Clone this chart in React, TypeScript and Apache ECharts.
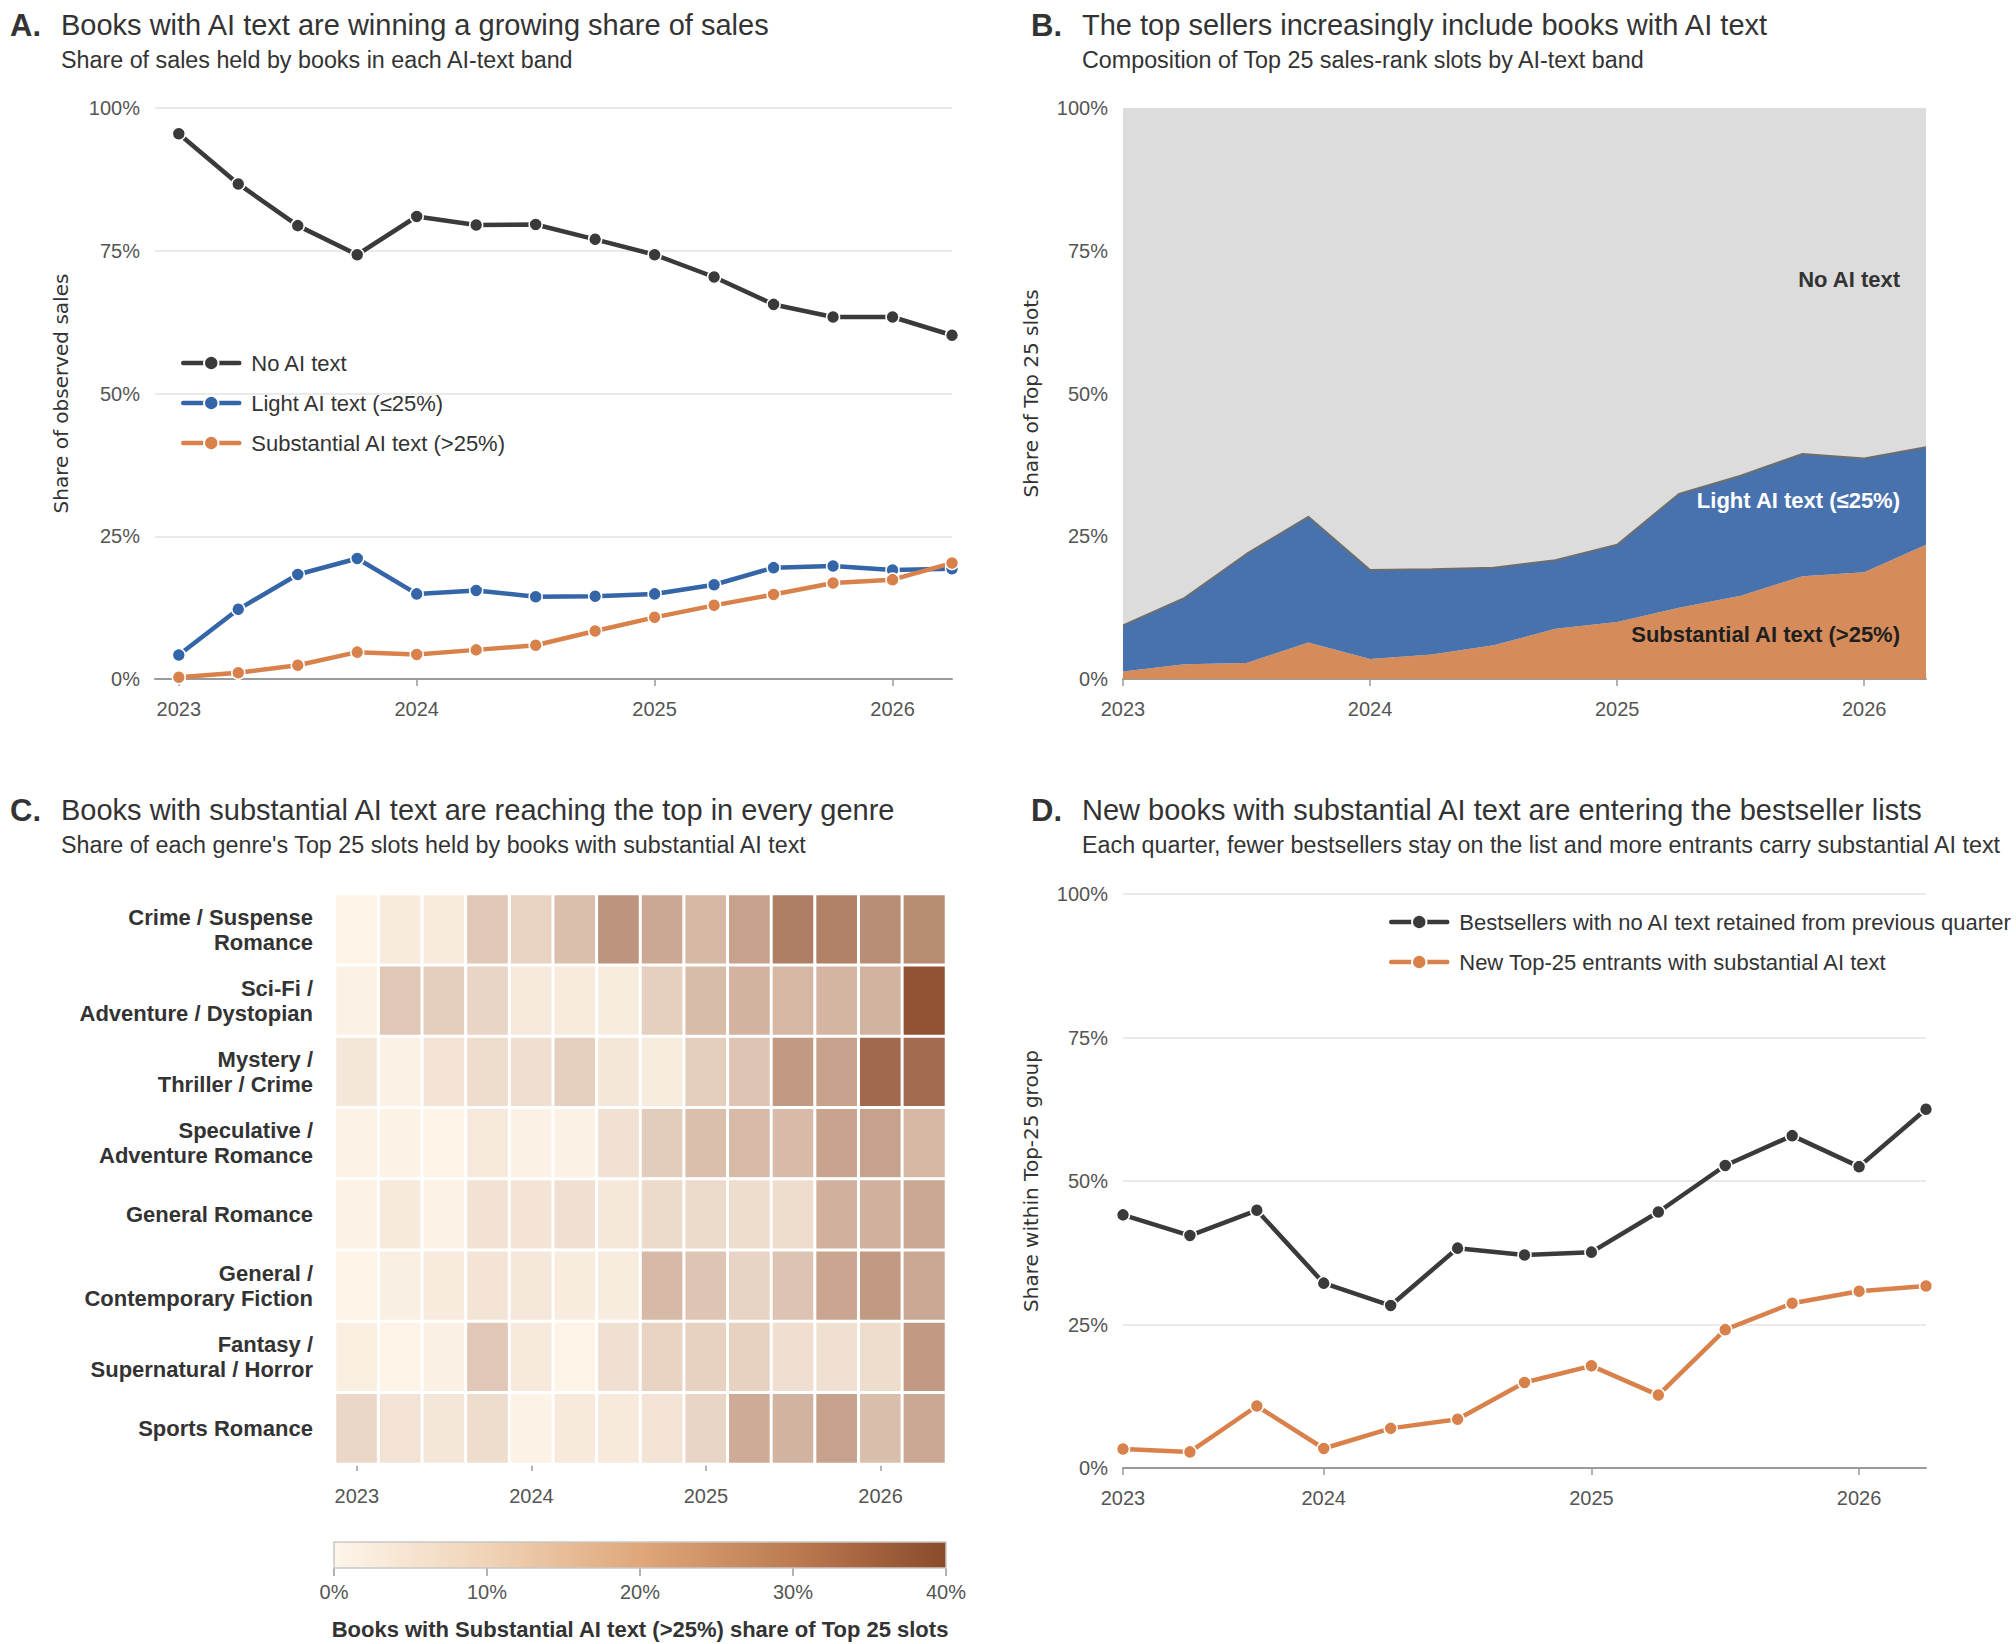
import React, { useEffect, useRef } from "react";
import * as echarts from "echarts";

// ---------- data ----------
const QUARTER_X = [2023, 2023.25, 2023.5, 2023.75, 2024, 2024.25, 2024.5, 2024.75, 2025, 2025.25, 2025.5, 2025.75, 2026, 2026.25];
const YEAR_TICKS = [2023, 2024, 2025, 2026];

const A_NAMES = ["No AI text", "Light AI text (≤25%)", "Substantial AI text (>25%)"];
const A_NO_AI = [95.5, 86.7, 79.4, 74.3, 81.0, 79.5, 79.6, 77.0, 74.3, 70.4, 65.6, 63.4, 63.4, 60.2];
const A_LIGHT = [4.2, 12.2, 18.3, 21.1, 14.9, 15.5, 14.4, 14.5, 14.9, 16.5, 19.5, 19.8, 19.1, 19.3];
const A_SUBST = [0.3, 1.1, 2.4, 4.7, 4.3, 5.1, 5.9, 8.4, 10.8, 12.9, 14.8, 16.8, 17.4, 20.3];

const B_QUARTERS = ["2023 Q1", "2023 Q2", "2023 Q3", "2023 Q4", "2024 Q1", "2024 Q2", "2024 Q3", "2024 Q4", "2025 Q1", "2025 Q2", "2025 Q3", "2025 Q4", "2026 Q1", "2026 Q2"];
const B_SUBST = [1.3, 2.6, 2.8, 6.4, 3.5, 4.3, 5.9, 8.8, 10.0, 12.5, 14.6, 18.0, 18.7, 23.5];
const B_LIGHT = [8.1, 11.6, 19.1, 22.0, 15.6, 14.9, 13.6, 12.0, 13.5, 19.9, 21.0, 21.4, 19.9, 17.1];
const B_NO_AI = [90.6, 85.8, 78.1, 71.6, 80.9, 80.8, 80.5, 79.2, 76.5, 67.6, 64.4, 60.6, 61.4, 59.4];

const C_QUARTERS = ["2023 Q1", "2023 Q2", "2023 Q3", "2023 Q4", "2024 Q1", "2024 Q2", "2024 Q3", "2024 Q4", "2025 Q1", "2025 Q2", "2025 Q3", "2025 Q4", "2026 Q1", "2026 Q2"];
const C_GENRES = [
  "Crime / Suspense\nRomance",
  "Sci-Fi /\nAdventure / Dystopian",
  "Mystery /\nThriller / Crime",
  "Speculative /\nAdventure Romance",
  "General Romance",
  "General /\nContemporary Fiction",
  "Fantasy /\nSupernatural / Horror",
  "Sports Romance",
];
const C_CRIME = [0, 1.9, 1.9, 10.4, 7.6, 12.3, 22.5, 17.8, 14.2, 19.4, 27.5, 27.0, 23.9, 24.6];
const C_SCIFI = [0.5, 10.4, 9.0, 7.1, 2.6, 1.9, 1.7, 8.5, 13.0, 15.1, 14.2, 14.7, 15.1, 38.0];
const C_MYSTERY = [3.1, 0.5, 3.6, 5.4, 4.7, 8.5, 3.1, 1.7, 8.8, 11.1, 21.0, 19.4, 32.4, 32.0];
const C_SPECULATIVE = [0.2, 0.2, 0, 2.4, 0.5, 0.5, 4.3, 9.2, 12.3, 13.3, 13.3, 18.9, 19.4, 14.2];
const C_GENERAL_ROMANCE = [0.2, 2.1, 0.2, 4.0, 3.6, 4.5, 2.8, 5.9, 5.9, 5.4, 5.4, 15.6, 15.6, 17.8];
const C_GENERAL_FICTION = [0, 0.9, 1.9, 3.6, 2.8, 1.7, 1.7, 13.7, 11.1, 7.3, 11.4, 18.2, 21.0, 17.8];
const C_FANTASY = [1.2, 0, 0.7, 10.4, 2.1, 0, 4.5, 7.6, 7.8, 7.8, 4.7, 4.5, 5.4, 21.0];
const C_SPORTS = [6.6, 3.8, 3.1, 5.4, 0.2, 2.1, 2.1, 3.8, 7.1, 17.0, 15.1, 19.4, 12.5, 17.8];
const C_ROWS = [C_CRIME, C_SCIFI, C_MYSTERY, C_SPECULATIVE, C_GENERAL_ROMANCE, C_GENERAL_FICTION, C_FANTASY, C_SPORTS];
const C_COLORBAR_TICKS = [0, 10, 20, 30, 40];

const D_QUARTERS = ["2023 Q2", "2023 Q3", "2023 Q4", "2024 Q1", "2024 Q2", "2024 Q3", "2024 Q4", "2025 Q1", "2025 Q2", "2025 Q3", "2025 Q4", "2026 Q1", "2026 Q2"];
const D_LABEL_IDX = [0, 3, 7, 11];
const D_NAMES = ["Bestsellers with no AI text retained from previous quarter", "New Top-25 entrants with substantial AI text"];
const D_RETAINED = [44.1, 40.5, 44.9, 32.2, 28.3, 38.3, 37.1, 37.6, 44.6, 52.7, 57.9, 52.5, 62.5];
const D_ENTRANTS = [3.3, 2.8, 10.8, 3.4, 6.9, 8.5, 14.9, 17.8, 12.7, 24.1, 28.7, 30.8, 31.7];

// ---------- style ----------
const FONT = "Liberation Sans";
const NAME_FONT = "DejaVu Sans";
const DARK = "#3a3a3a";
const BLUE = "#3465a8";
const ORANGE = "#d8814a";
const TEXT = "#333333";
const TICK = "#555555";
const AXIS = "#9a9a9a";
const GRIDLINE = "#e3e3e3";

const pct = (v: number) => `${Math.round(v)}%`;

function lineSeries(name: string, xs: any[], ys: number[], color: string, xi: number, yi: number) {
  return {
    type: "line",
    name,
    xAxisIndex: xi,
    yAxisIndex: yi,
    data: xs.map((x, i) => [x, ys[i]]),
    symbol: "circle",
    symbolSize: 13,
    lineStyle: { color, width: 4.5, cap: "round", join: "round" },
    itemStyle: { color, borderColor: "#ffffff", borderWidth: 1.5 },
    emphasis: { disabled: true },
    z: 3,
  };
}

function pctAxis(gridIndex: number, name: string, gap: number, gridLines: boolean) {
  return {
    type: "value",
    gridIndex,
    min: 0,
    max: 100,
    interval: 25,
    axisLine: { show: false },
    axisTick: { show: false },
    axisLabel: { formatter: pct, fontSize: 20, color: TICK, margin: 15, fontFamily: FONT },
    splitLine: { show: gridLines, lineStyle: { color: GRIDLINE, width: 1.5 } },
    name,
    nameLocation: "middle",
    nameGap: gap,
    nameTextStyle: { fontFamily: NAME_FONT, fontSize: 20, color: TEXT },
  };
}

const tickStyle = { color: AXIS, width: 1.5 };

function yearCategoryAxis(gridIndex: number, data: string[], labelIdx: number[], boundaryGap: boolean, showLine: boolean, margin: number) {
  return {
    type: "category",
    gridIndex,
    data,
    boundaryGap,
    axisLine: { show: showLine, lineStyle: { color: AXIS, width: 2 } },
    axisTick: { show: true, alignWithLabel: true, interval: (i: number) => labelIdx.includes(i), length: 7, lineStyle: tickStyle },
    axisLabel: { interval: (i: number) => labelIdx.includes(i), formatter: (v: string) => v.slice(0, 4), fontSize: 20, color: TICK, margin, fontFamily: FONT },
    splitLine: { show: false },
  };
}

function titleBlock(letterX: number, textX: number, y: number, letter: string, title: string, sub: string) {
  return [
    { type: "text", x: letterX, y, style: { text: letter, fontSize: 31, fontWeight: "bold", fontFamily: FONT, fill: TEXT, textVerticalAlign: "middle" } },
    { type: "text", x: textX, y, style: { text: title, fontSize: 29, fontFamily: FONT, fill: TEXT, textVerticalAlign: "middle" } },
    { type: "text", x: textX, y: y + 35, style: { text: sub, fontSize: 23.3, fontFamily: FONT, fill: TEXT, textVerticalAlign: "middle" } },
  ];
}

function stackArea(name: string, ys: number[], color: string, line: any, z: number) {
  return {
    type: "line",
    name,
    xAxisIndex: 1,
    yAxisIndex: 1,
    stack: "B",
    data: ys,
    symbol: "none",
    showSymbol: false,
    lineStyle: line,
    areaStyle: { color, opacity: 1 },
    z,
    emphasis: { disabled: true },
    silent: true,
  };
}

function buildOption() {
  const heatData: any[] = [];
  C_ROWS.forEach((row, yi) => row.forEach((v, xi) => heatData.push([xi, yi, v])));

  const legendBase = {
    orient: "vertical",
    itemWidth: 56,
    itemHeight: 18,
    itemGap: 18,
    padding: 0,
    selectedMode: false,
    lineStyle: { width: 4.5, cap: "round" },
    textStyle: { fontSize: 22, color: TEXT, fontFamily: FONT, padding: [0, 0, 0, 7] },
  };

  return {
    animation: false,
    backgroundColor: "#ffffff",
    textStyle: { fontFamily: FONT },
    grid: [
      { left: 155, top: 108, width: 797, height: 571 },
      { left: 1123, top: 108, width: 803, height: 571 },
      { left: 335, top: 894, width: 611, height: 570 },
      { left: 1123, top: 894, width: 803, height: 574 },
      { left: 334, top: 1542, width: 612, height: 26 },
    ],
    xAxis: [
      {
        type: "value",
        gridIndex: 0,
        min: 2022.9,
        max: 2026.25,
        axisLine: { show: true, lineStyle: { color: AXIS, width: 2 } },
        axisTick: { show: true, customValues: YEAR_TICKS, length: 7, lineStyle: tickStyle },
        axisLabel: { customValues: YEAR_TICKS, formatter: (v: number) => String(Math.round(v)), fontSize: 20, color: TICK, margin: 20, fontFamily: FONT },
        splitLine: { show: false },
      },
      yearCategoryAxis(1, B_QUARTERS, [0, 4, 8, 12], false, true, 20),
      yearCategoryAxis(2, C_QUARTERS, [0, 4, 8, 12], true, false, 22),
      yearCategoryAxis(3, D_QUARTERS, D_LABEL_IDX, false, true, 20),
      {
        type: "value",
        gridIndex: 4,
        min: 0,
        max: 40,
        interval: 10,
        axisLine: { show: false },
        axisTick: { show: true, length: 8, lineStyle: tickStyle },
        axisLabel: { formatter: pct, fontSize: 20, color: TICK, margin: 14, fontFamily: FONT },
        splitLine: { show: false },
        name: "Books with Substantial AI text (>25%) share of Top 25 slots",
        nameLocation: "middle",
        nameGap: 50,
        nameTextStyle: { fontFamily: FONT, fontSize: 22, fontWeight: "bold", color: TEXT },
      },
    ],
    yAxis: [
      pctAxis(0, "Share of observed sales", 84, true),
      pctAxis(1, "Share of Top 25 slots", 82, false),
      {
        type: "category",
        gridIndex: 2,
        data: C_GENRES,
        inverse: true,
        axisLine: { show: false },
        axisTick: { show: false },
        axisLabel: { fontSize: 22, fontWeight: "bold", color: TEXT, margin: 22, lineHeight: 25, fontFamily: FONT, align: "right" },
        splitLine: { show: false },
      },
      pctAxis(3, "Share within Top-25 group", 82, true),
      { type: "value", gridIndex: 4, min: 0, max: 1, show: false },
    ],
    legend: [
      { ...legendBase, data: A_NAMES, left: 181, top: 352 },
      { ...legendBase, data: D_NAMES, left: 1389, top: 911 },
    ],
    visualMap: [
      { type: "continuous", show: false, seriesIndex: 6, min: 0, max: 40, inRange: { color: ["#fdf3e7", "#8c4a2a"] } },
    ],
    series: [
      lineSeries(A_NAMES[0], QUARTER_X, A_NO_AI, DARK, 0, 0),
      lineSeries(A_NAMES[1], QUARTER_X, A_LIGHT, BLUE, 0, 0),
      lineSeries(A_NAMES[2], QUARTER_X, A_SUBST, ORANGE, 0, 0),
      stackArea("B substantial", B_SUBST, "#d58b5a", { width: 0 }, 2),
      stackArea("B light", B_LIGHT, "#4872ae", { width: 2, color: "#6e6e6e" }, 3),
      stackArea("B none", B_NO_AI, "#dcdcdc", { width: 0 }, 2),
      {
        type: "heatmap", name: "C heat", xAxisIndex: 2, yAxisIndex: 2, data: heatData,
        itemStyle: { borderColor: "#ffffff", borderWidth: 3 }, emphasis: { disabled: true },
      },
      {
        type: "custom", name: "C colorbar", xAxisIndex: 4, yAxisIndex: 4,
        data: [[C_COLORBAR_TICKS[0], C_COLORBAR_TICKS[C_COLORBAR_TICKS.length - 1]]],
        renderItem: (params: any, api: any) => {
          const p0 = api.coord([api.value(0), 0]);
          const p1 = api.coord([api.value(1), 1]);
          return {
            type: "rect",
            shape: { x: p0[0], y: p1[1], width: p1[0] - p0[0], height: p0[1] - p1[1] },
            style: {
              fill: new echarts.graphic.LinearGradient(0, 0, 1, 0, [
                { offset: 0, color: "#fdf5ea" },
                { offset: 0.25, color: "#f0d3b7" },
                { offset: 0.5, color: "#dfa77a" },
                { offset: 0.75, color: "#bc7b51" },
                { offset: 1, color: "#8b4a2a" },
              ]),
              stroke: "#c8c8c8",
              lineWidth: 1.5,
            },
          };
        },
        silent: true,
      },
      lineSeries(D_NAMES[0], D_QUARTERS, D_RETAINED, DARK, 3, 3),
      lineSeries(D_NAMES[1], D_QUARTERS, D_ENTRANTS, ORANGE, 3, 3),
    ],
    graphic: [
      ...titleBlock(10, 61, 25, "A.", "Books with AI text are winning a growing share of sales", "Share of sales held by books in each AI-text band"),
      ...titleBlock(1031, 1082, 25, "B.", "The top sellers increasingly include books with AI text", "Composition of Top 25 sales-rank slots by AI-text band"),
      ...titleBlock(10, 61, 810, "C.", "Books with substantial AI text are reaching the top in every genre", "Share of each genre's Top 25 slots held by books with substantial AI text"),
      ...titleBlock(1031, 1082, 810, "D.", "New books with substantial AI text are entering the bestseller lists", "Each quarter, fewer bestsellers stay on the list and more entrants carry substantial AI text"),
      { type: "text", x: 1900, y: 279, z: 10, style: { text: "No AI text", fontSize: 22, fontWeight: "bold", fontFamily: FONT, fill: TEXT, textAlign: "right", textVerticalAlign: "middle" } },
      { type: "text", x: 1900, y: 500, z: 10, style: { text: "Light AI text (≤25%)", fontSize: 22, fontWeight: "bold", fontFamily: FONT, fill: "#ffffff", textAlign: "right", textVerticalAlign: "middle" } },
      { type: "text", x: 1900, y: 634, z: 10, style: { text: "Substantial AI text (>25%)", fontSize: 22, fontWeight: "bold", fontFamily: FONT, fill: "#1f1f1f", textAlign: "right", textVerticalAlign: "middle" } },
    ],
  };
}

export default function App() {
  const ref = useRef<HTMLDivElement>(null);
  useEffect(() => {
    if (!ref.current) return;
    const chart = echarts.init(ref.current, undefined, { renderer: "svg" });
    chart.setOption(buildOption() as any);
    return () => chart.dispose();
  }, []);
  return <div ref={ref} style={{ position: "absolute", left: 0, top: 0, width: 2016, height: 1644, background: "#ffffff" }} />;
}
